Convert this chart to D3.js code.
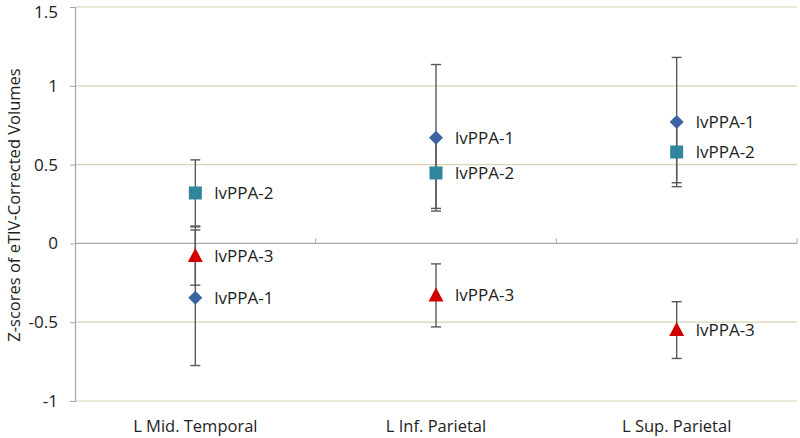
<!DOCTYPE html>
<html><head><meta charset="utf-8">
<script src="https://cdn.jsdelivr.net/npm/d3@7"></script>
<style>body{margin:0;background:#fff}text{font-family:"Open Sans","Liberation Sans",sans-serif}</style>
</head><body>
<svg id="c" width="800" height="438"></svg>
<script>
const categories = ["L Mid. Temporal","L Inf. Parietal","L Sup. Parietal"];
const seriesNames = ["lvPPA-1","lvPPA-2","lvPPA-3"];
const lvPPA1 = [-0.345, 0.67, 0.77];
const lvPPA1Err = [0.43, 0.465, 0.41];
const lvPPA2 = [0.32, 0.447, 0.58];
const lvPPA2Err = [0.21, 0.225, 0.195];
const lvPPA3 = [-0.08, -0.33, -0.55];
const lvPPA3Err = [0.185, 0.2, 0.18];
const yTicks = [-1, -0.5, 0, 0.5, 1, 1.5];
const yTickLabels = ["-1","-0.5","0","0.5","1","1.5"];

const svg = d3.select("#c");
const L = 75, R = 797, T = 7, B = 401;
const x = d3.scaleBand().domain(categories).range([L, R]);
const y = d3.scaleLinear().domain([-1, 1.5]).range([B, T]);

// gridlines
svg.append("g").selectAll("line").data(yTicks.filter(d => d !== 0)).join("line")
  .attr("x1", L).attr("x2", R).attr("y1", d => y(d)).attr("y2", d => y(d))
  .attr("stroke", "#d9d4b2").attr("stroke-width", 1.2);

// y axis
const yAxis = d3.axisLeft(y).tickValues(yTicks).tickFormat((d, i) => yTickLabels[i]).tickSize(5).tickPadding(12);
const ya = svg.append("g").attr("transform", `translate(${L},0)`).call(yAxis);
ya.select(".domain").attr("stroke", "#a6a6a6").attr("stroke-width", 1.2);
ya.selectAll(".tick line").attr("stroke", "#a6a6a6");
ya.selectAll(".tick text").attr("font-size", 17).attr("fill", "#222").attr("font-family", "Open Sans, sans-serif")
  .attr("dy", d => d === 1.5 ? "0.6em" : "0.32em");

// x axis at zero
svg.append("line").attr("x1", L).attr("x2", R).attr("y1", y(0)).attr("y2", y(0))
  .attr("stroke", "#a6a6a6").attr("stroke-width", 1.2);
const bounds = categories.map(c => x(c) + x.bandwidth());
svg.append("g").selectAll("line").data(bounds).join("line")
  .attr("x1", d => d).attr("x2", d => d).attr("y1", y(0)).attr("y2", y(0) - 5)
  .attr("stroke", "#a6a6a6").attr("stroke-width", 1);

// x labels
svg.append("g").selectAll("text").data(categories).join("text")
  .attr("x", d => x(d) + x.bandwidth() / 2).attr("y", 432)
  .attr("text-anchor", "middle").attr("font-size", 16.5).attr("fill", "#222").text(d => d);

// y title
svg.append("text").attr("transform", "translate(20,205) rotate(-90)")
  .attr("text-anchor", "middle").attr("font-size", 16.5).attr("fill", "#222")
  .text("Z-scores of  eTIV-Corrected Volumes");

const series = [
  {name: seriesNames[0], vals: lvPPA1, err: lvPPA1Err, shape: "diamond", color: "#3b64a0"},
  {name: seriesNames[1], vals: lvPPA2, err: lvPPA2Err, shape: "square", color: "#31869b"},
  {name: seriesNames[2], vals: lvPPA3, err: lvPPA3Err, shape: "triangle", color: "#d00000"}
];
const cx = c => x(c) + x.bandwidth() / 2;

// error bars
series.forEach(s => {
  const g = svg.append("g");
  categories.forEach((c, i) => {
    const X = cx(c), hi = y(s.vals[i] + s.err[i]), lo = y(s.vals[i] - s.err[i]);
    g.append("line").attr("x1", X).attr("x2", X).attr("y1", hi).attr("y2", lo).attr("stroke", "#595959").attr("stroke-width", 1.4);
    [hi, lo].forEach(v => g.append("line").attr("x1", X - 5).attr("x2", X + 5).attr("y1", v).attr("y2", v).attr("stroke", "#595959").attr("stroke-width", 1.4));
  });
});

// markers and labels
series.forEach(s => {
  const g = svg.append("g");
  categories.forEach((c, i) => {
    const X = cx(c), Y = y(s.vals[i]);
    if (s.shape === "diamond") {
      g.append("path").attr("d", `M${X},${Y-7}L${X+7},${Y}L${X},${Y+7}L${X-7},${Y}Z`).attr("fill", s.color);
    } else if (s.shape === "square") {
      g.append("rect").attr("x", X - 6.5).attr("y", Y - 6.5).attr("width", 13).attr("height", 13).attr("fill", s.color);
    } else {
      g.append("path").attr("d", `M${X},${Y-8}L${X+7.5},${Y+6}L${X-7.5},${Y+6}Z`).attr("fill", s.color);
    }
    g.append("text").attr("x", X + 19).attr("y", Y).attr("dy", "0.35em")
      .attr("font-size", 17).attr("fill", "#222").text(s.name);
  });
});
</script>
</body></html>
